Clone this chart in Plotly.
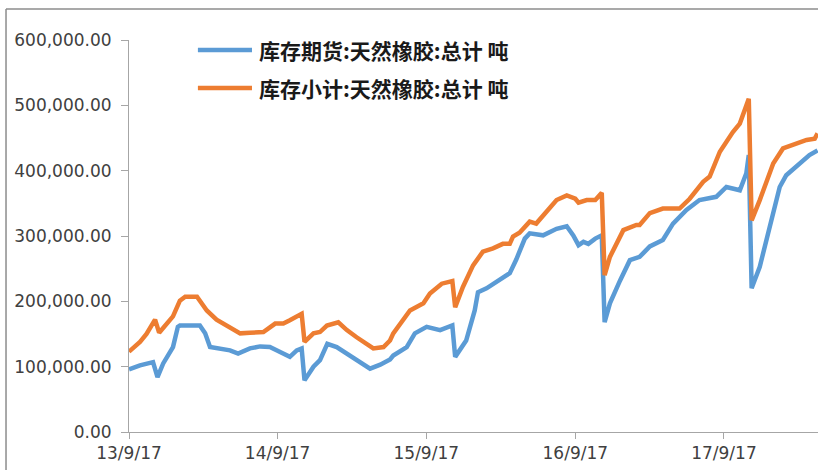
import plotly.graph_objects as go

# ---- data ----
futures_dates = [
    "2013-09-17", "2013-10-14", "2013-11-15", "2013-11-26", "2013-12-10", "2014-01-03",
    "2014-01-15", "2014-01-20", "2014-03-10", "2014-03-23", "2014-04-04", "2014-04-29",
    "2014-05-23", "2014-06-12", "2014-07-11", "2014-08-05", "2014-08-29", "2014-09-23",
    "2014-10-17", "2014-11-03", "2014-11-15", "2014-11-22", "2014-12-14", "2014-12-30",
    "2015-01-17", "2015-02-09", "2015-03-06", "2015-03-30", "2015-05-02", "2015-05-27",
    "2015-06-20", "2015-06-28", "2015-07-31", "2015-08-20", "2015-09-18", "2015-10-21",
    "2015-11-20", "2015-11-27", "2015-12-24", "2016-01-14", "2016-01-22", "2016-02-12",
    "2016-03-07", "2016-04-01", "2016-04-09", "2016-04-25", "2016-05-16", "2016-05-28",
    "2016-06-30", "2016-08-02", "2016-08-27", "2016-09-12", "2016-09-25", "2016-10-07",
    "2016-10-19", "2016-11-05", "2016-11-21", "2016-11-28", "2016-12-11", "2017-01-05",
    "2017-01-29", "2017-02-22", "2017-03-19", "2017-04-20", "2017-05-15", "2017-06-17",
    "2017-07-19", "2017-08-29", "2017-09-23", "2017-10-26", "2017-11-11", "2017-11-17",
    "2017-11-24", "2017-12-14", "2018-01-03", "2018-02-01", "2018-02-17", "2018-03-22",
    "2018-04-15", "2018-05-05",
]
futures_values = [
    96000, 102000, 107000, 84000, 105000, 130000,
    161000, 163000, 163000, 151000, 130000, 128000,
    125000, 120000, 128000, 131000, 130000, 122500,
    115000, 125000, 128000, 79000, 100000, 110000,
    135000, 130000, 120000, 110000, 97000, 103000,
    111000, 117000, 130000, 151000, 161000, 156000,
    163000, 115000, 140000, 186000, 214000, 220000,
    230000, 240000, 243000, 264000, 296000, 304000,
    301000, 311000, 315000, 301000, 286000, 291000,
    288000, 296000, 301000, 168000, 197000, 232000,
    263000, 268000, 284000, 294000, 319000, 340000,
    355000, 360000, 375000, 370000, 396000, 424000,
    220000, 253000, 304000, 375000, 393000, 411000,
    424000, 431000,
]

subtotal_dates = [
    "2013-09-17", "2013-10-14", "2013-10-30", "2013-11-20", "2013-11-30", "2013-12-19",
    "2014-01-03", "2014-01-20", "2014-02-02", "2014-03-03", "2014-03-27", "2014-04-20",
    "2014-05-15", "2014-06-17", "2014-07-11", "2014-08-13", "2014-09-11", "2014-10-01",
    "2014-10-17", "2014-11-15", "2014-11-22", "2014-12-14", "2014-12-30", "2015-01-16",
    "2015-02-13", "2015-03-06", "2015-03-30", "2015-05-10", "2015-06-04", "2015-06-20",
    "2015-06-28", "2015-07-23", "2015-08-08", "2015-09-10", "2015-09-26", "2015-10-25",
    "2015-11-20", "2015-11-27", "2015-12-16", "2016-01-10", "2016-02-03", "2016-02-28",
    "2016-03-23", "2016-04-09", "2016-04-17", "2016-05-03", "2016-05-28", "2016-06-13",
    "2016-07-08", "2016-08-02", "2016-08-27", "2016-09-17", "2016-09-25", "2016-10-15",
    "2016-11-05", "2016-11-21", "2016-11-28", "2016-12-11", "2017-01-13", "2017-02-14",
    "2017-02-22", "2017-03-19", "2017-04-20", "2017-05-31", "2017-06-25", "2017-07-28",
    "2017-08-13", "2017-09-07", "2017-10-09", "2017-10-26", "2017-11-17", "2017-11-24",
    "2017-12-14", "2018-01-16", "2018-02-09", "2018-03-14", "2018-04-08", "2018-04-28",
    "2018-05-05",
]
subtotal_values = [
    123000, 138000, 150000, 172000, 152000, 166000,
    177000, 201000, 207000, 207000, 186000, 172000,
    163000, 151000, 152000, 153000, 166000, 166000,
    171000, 181000, 138000, 151000, 153000, 163000,
    168000, 156000, 145000, 128000, 130000, 140000,
    151000, 171000, 186000, 197000, 212000, 227000,
    231000, 191000, 222000, 255000, 276000, 281000,
    288000, 288000, 299000, 305000, 322000, 319000,
    337000, 355000, 362000, 357000, 351000, 355000,
    355000, 366000, 240000, 268000, 309000, 317000,
    317000, 335000, 342000, 342000, 357000, 383000,
    391000, 429000, 459000, 472000, 510000, 324000,
    355000, 411000, 434000, 442000, 447000, 449000,
    457000,
]

series_names = ["库存期货:天然橡胶:总计 吨", "库存小计:天然橡胶:总计 吨"]
series_colors = ["#5B9BD5", "#ED7D31"]

tick_dates = ["2013-09-17", "2014-09-17", "2015-09-17", "2016-09-17", "2017-09-17"]
tick_labels = ["13/9/17", "14/9/17", "15/9/17", "16/9/17", "17/9/17"]
y_ticks = [0, 100000, 200000, 300000, 400000, 500000, 600000]
y_tick_labels = ["0.00", "100,000.00", "200,000.00", "300,000.00",
                 "400,000.00", "500,000.00", "600,000.00"]

fig = go.Figure()
fig.add_trace(go.Scatter(x=futures_dates, y=futures_values, mode="lines",
                         name=series_names[0],
                         line=dict(color=series_colors[0], width=4.5),
                         showlegend=False))
fig.add_trace(go.Scatter(x=subtotal_dates, y=subtotal_values, mode="lines",
                         name=series_names[1],
                         line=dict(color=series_colors[1], width=4.5),
                         showlegend=False))

tick_font = dict(family="DejaVu Sans", size=17, color="#404040")
axis_color = "#a6a6a6"

fig.update_xaxes(
    type="date", range=["2013-09-17", "2018-05-06"],
    tickvals=tick_dates, ticktext=tick_labels,
    showgrid=False, zeroline=False,
    showline=True, linecolor=axis_color, linewidth=1,
    ticks="outside", ticklen=6, tickcolor=axis_color,
    tickfont=tick_font,
)
fig.update_yaxes(
    range=[0, 600000], tickvals=y_ticks, ticktext=y_tick_labels,
    showgrid=False, zeroline=False,
    showline=True, linecolor=axis_color, linewidth=1,
    ticks="outside", ticklen=7, tickcolor=axis_color,
    tickfont=tick_font, ticklabelstandoff=6,
)

# manual legend (longer line samples like the original)
legend_y = [0.9745, 0.8776]
for name, color, ly in zip(series_names, series_colors, legend_y):
    fig.add_shape(type="line", xref="paper", yref="paper",
                  x0=0.100, x1=0.1785, y0=ly, y1=ly,
                  line=dict(color=color, width=4.5))
    fig.add_annotation(xref="paper", yref="paper", x=0.1858, y=ly,
                       text="<b>" + name + "</b>", showarrow=False,
                       xanchor="left", yanchor="middle",
                       font=dict(family="Noto Sans CJK SC", size=21, color="#1a1a1a"))

# outer chart border (top and left edges visible)
fig.add_shape(type="line", xref="paper", yref="paper",
              x0=-0.1785, x1=1.01, y0=1.0791, y1=1.0791,
              line=dict(color="#8c8c8c", width=1.5))
fig.add_shape(type="line", xref="paper", yref="paper",
              x0=-0.1785, x1=-0.1785, y0=-0.12, y1=1.0791,
              line=dict(color="#8c8c8c", width=1.5))

fig.update_layout(
    width=818, height=470,
    margin=dict(l=129, r=0, t=40, b=38),
    paper_bgcolor="white", plot_bgcolor="white",
    showlegend=False,
)

fig.write_html(
    "out.html",
    config={"displayModeBar": False},
    post_script="document.body.style.margin='0';document.body.style.overflow='hidden';",
)
